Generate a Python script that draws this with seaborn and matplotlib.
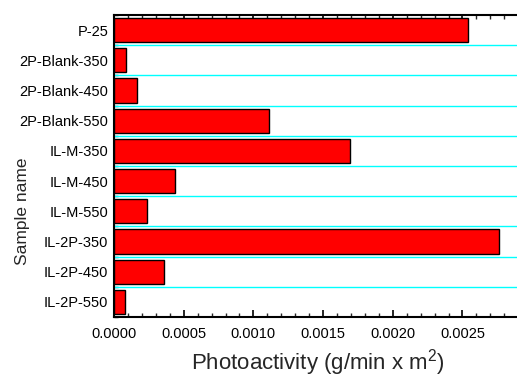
import matplotlib
matplotlib.use("Agg")
import matplotlib.pyplot as plt
import seaborn as sns
import pandas as pd
from matplotlib.ticker import MultipleLocator, FixedLocator

samples = ["P-25", "2P-Blank-350", "2P-Blank-450", "2P-Blank-550", "IL-M-350",
           "IL-M-450", "IL-M-550", "IL-2P-350", "IL-2P-450", "IL-2P-550"]
photoactivity = [0.00254, 0.000087, 0.000167, 0.00111, 0.00169,
                 0.00044, 0.000237, 0.00276, 0.00036, 0.000077]
x_ticks = [0.0, 0.0005, 0.0010, 0.0015, 0.0020, 0.0025]
x_tick_labels = ["0.0000", "0.0005", "0.0010", "0.0015", "0.0020", "0.0025"]

df = pd.DataFrame({"Sample": samples, "Photoactivity": photoactivity})

sns.set_theme(style="white")
plt.rcParams["font.family"] = ["Liberation Sans", "DejaVu Sans"]
plt.rcParams["mathtext.fontset"] = "custom"
plt.rcParams["mathtext.rm"] = "Liberation Sans"

fig = plt.figure(figsize=(5.17, 3.79), dpi=100)
ax = fig.add_axes([0.2205, 0.1636, 0.79, 0.7968])

sns.barplot(data=df, x="Photoactivity", y="Sample", orient="h", color="#FF0000",
            saturation=1, edgecolor="black", linewidth=1.0, width=0.8, ax=ax, zorder=3)

for i in range(len(samples) - 1):
    ax.axhline(i + 0.5, color="#00FFFF", linewidth=1.0, zorder=1)

ax.set_xlim(0, 0.00293)
ax.set_ylim(len(samples) - 0.5, -0.5)
ax.set_xticks(x_ticks)
ax.set_xticklabels(x_tick_labels)
ax.xaxis.set_minor_locator(MultipleLocator(0.0001))
ax.yaxis.set_minor_locator(FixedLocator([i + 0.5 for i in range(-1, len(samples))]))

ax.tick_params(axis="both", which="major", direction="in", length=5, width=1.2,
               labelsize=10.5, colors="black")
ax.tick_params(axis="x", which="major", pad=7)
ax.tick_params(axis="y", which="major", pad=4)
ax.tick_params(axis="both", which="minor", direction="in", length=3, width=1.0)
ax.tick_params(axis="x", which="both", top=True, bottom=True)
ax.tick_params(axis="y", which="both", left=True, right=False)

for s in ax.spines.values():
    s.set_linewidth(1.5)
    s.set_color("black")

ax.set_xlabel("Photoactivity (g/min x m$\\mathregular{^{2}}$)", fontsize=16)
ax.set_ylabel("Sample name", fontsize=12.5)
ax.yaxis.set_label_coords(-0.205, 0.35)
ax.xaxis.set_label_coords(0.5, -0.10)
ax.grid(False)

fig.savefig("out.png", dpi=100)
